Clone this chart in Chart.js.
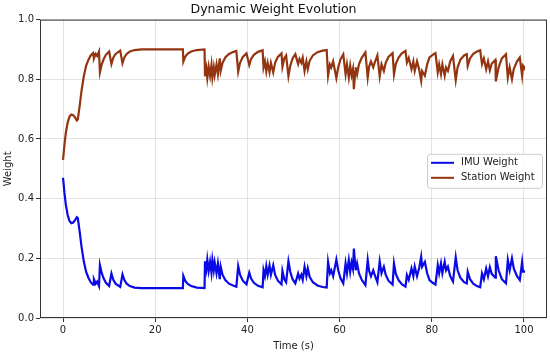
<!DOCTYPE html>
<html>
<head>
<meta charset="utf-8">
<script src="https://cdn.jsdelivr.net/npm/chart.js@4/dist/chart.umd.min.js"></script>
<style>
html,body{margin:0;padding:0;background:#fff;}
#wrap{width:550px;height:353px;}
</style>
</head>
<body>
<div id="wrap"><canvas id="c" width="550" height="353"></canvas></div>
<script>
const chartTitle = 'Dynamic Weight Evolution';
const xTitle = 'Time (s)';
const yTitle = 'Weight';
const seriesLabels = ['IMU Weight', 'Station Weight'];
const xTicks = [0, 20, 40, 60, 80, 100];
const yTicks = [0.0, 0.2, 0.4, 0.6, 0.8, 1.0];

const times = [0,0.3,0.6,1.0,1.4,1.8,2.2,2.6,3.0,3.2,3.6,4.0,4.5,5.0,5.5,6.0,6.5,6.7,7.1,7.4,7.8,8.0,8.4,8.8,9.3,10.0,10.5,10.9,11.4,12.4,12.9,13.3,13.8,14.5,15.5,17.0,26.0,26.1,26.5,27.0,27.8,29.0,30.7,30.8,31.1,31.3,31.6,31.9,32.2,32.4,32.7,32.9,33.3,33.6,34.0,34.2,34.6,35.2,36.0,37.0,37.6,38.0,38.4,39.0,39.8,40.4,40.8,41.4,42.3,43.3,43.5,43.8,44.1,44.4,44.8,45.1,45.6,46.0,46.6,47.4,47.6,48.0,48.4,48.9,49.3,49.8,50.4,51.0,51.3,51.7,52.0,52.4,52.8,53.1,53.5,54.2,55.2,56.3,57.2,57.5,57.9,58.2,58.6,59.3,59.7,60.2,60.8,61.3,61.6,62.0,62.3,62.6,62.9,63.1,63.4,63.5,63.8,64.2,64.8,65.6,66.1,66.4,66.8,67.3,67.6,68.2,68.7,69.1,69.6,70.0,70.6,71.5,71.8,72.2,72.8,73.5,74.3,74.6,75.0,75.6,76.0,76.3,76.8,77.3,77.7,77.9,78.5,79.0,79.5,80.2,80.8,81.3,81.6,82.0,82.3,82.8,83.1,83.5,84.0,84.6,85.2,85.6,86.2,87.0,87.6,87.8,88.3,89.0,89.8,90.5,90.9,91.3,91.8,92.2,92.6,93.0,93.8,93.9,94.5,95.2,96.1,96.5,96.9,97.4,97.8,98.5,99.1,99.6,99.8,100];

const imuWeight = [0.47,0.42,0.38,0.345,0.325,0.318,0.32,0.328,0.338,0.335,0.29,0.24,0.19,0.155,0.135,0.12,0.112,0.13,0.115,0.122,0.107,0.177,0.15,0.133,0.118,0.107,0.149,0.128,0.115,0.104,0.146,0.127,0.115,0.107,0.102,0.1,0.1,0.141,0.125,0.115,0.107,0.102,0.1,0.19,0.163,0.196,0.158,0.188,0.152,0.194,0.16,0.186,0.15,0.183,0.13,0.172,0.145,0.127,0.115,0.108,0.105,0.174,0.145,0.125,0.113,0.152,0.132,0.118,0.108,0.103,0.16,0.14,0.174,0.145,0.176,0.145,0.177,0.145,0.125,0.113,0.158,0.13,0.12,0.19,0.155,0.13,0.116,0.149,0.132,0.145,0.128,0.172,0.14,0.166,0.138,0.12,0.109,0.104,0.102,0.188,0.15,0.16,0.14,0.196,0.16,0.133,0.116,0.183,0.15,0.194,0.155,0.186,0.165,0.233,0.175,0.16,0.183,0.15,0.128,0.11,0.194,0.158,0.14,0.16,0.145,0.12,0.19,0.15,0.172,0.145,0.125,0.112,0.183,0.148,0.127,0.113,0.105,0.144,0.128,0.166,0.14,0.172,0.14,0.17,0.205,0.172,0.188,0.15,0.127,0.118,0.112,0.177,0.15,0.183,0.15,0.188,0.16,0.172,0.14,0.122,0.203,0.16,0.135,0.12,0.116,0.155,0.13,0.115,0.107,0.103,0.149,0.13,0.166,0.14,0.17,0.148,0.135,0.207,0.16,0.13,0.116,0.194,0.16,0.2,0.165,0.14,0.127,0.188,0.155,0.16];

const stationWeight = [0.53,0.58,0.62,0.655,0.675,0.682,0.68,0.672,0.662,0.665,0.71,0.76,0.81,0.845,0.865,0.88,0.888,0.87,0.885,0.878,0.893,0.823,0.85,0.867,0.882,0.893,0.851,0.872,0.885,0.896,0.854,0.873,0.885,0.893,0.898,0.9,0.9,0.859,0.875,0.885,0.893,0.898,0.9,0.81,0.837,0.804,0.842,0.812,0.848,0.806,0.84,0.814,0.85,0.817,0.87,0.828,0.855,0.873,0.885,0.892,0.895,0.826,0.855,0.875,0.887,0.848,0.868,0.882,0.892,0.897,0.84,0.86,0.826,0.855,0.824,0.855,0.823,0.855,0.875,0.887,0.842,0.87,0.88,0.81,0.845,0.87,0.884,0.851,0.868,0.855,0.872,0.828,0.86,0.834,0.862,0.88,0.891,0.896,0.898,0.812,0.85,0.84,0.86,0.804,0.84,0.867,0.884,0.817,0.85,0.806,0.845,0.814,0.835,0.767,0.825,0.84,0.817,0.85,0.872,0.89,0.806,0.842,0.86,0.84,0.855,0.88,0.81,0.85,0.828,0.855,0.875,0.888,0.817,0.852,0.873,0.887,0.895,0.856,0.872,0.834,0.86,0.828,0.86,0.83,0.795,0.828,0.812,0.85,0.873,0.882,0.888,0.823,0.85,0.817,0.85,0.812,0.84,0.828,0.86,0.878,0.797,0.84,0.865,0.88,0.884,0.845,0.87,0.885,0.893,0.897,0.851,0.87,0.834,0.86,0.83,0.852,0.865,0.793,0.84,0.87,0.884,0.806,0.84,0.8,0.835,0.86,0.873,0.812,0.845,0.84];

const FONT = "'DejaVu Sans', sans-serif";
const AXIS = '#333333';
const GRID = 'rgba(176,176,176,0.35)';

const boxPlugin = {
  id: 'boxPlugin',
  afterDraw(chart) {
    const ctx = chart.ctx;
    const a = chart.chartArea;
    ctx.save();
    ctx.strokeStyle = AXIS;
    ctx.lineWidth = 1;
    ctx.strokeRect(a.left + 0.5, a.top + 0.5, a.right - a.left - 1, a.bottom - a.top - 1);
    const w = 115, h = 34;
    const x0 = a.right - w - 5, y0 = (a.top + a.bottom) / 2 - h / 2 + 2;
    ctx.fillStyle = 'rgba(255,255,255,0.85)';
    ctx.strokeStyle = '#cccccc';
    ctx.beginPath();
    if (ctx.roundRect) ctx.roundRect(x0 + 0.5, y0 + 0.5, w, h, 3); else ctx.rect(x0 + 0.5, y0 + 0.5, w, h);
    ctx.fill();
    ctx.stroke();
    ctx.font = '10px ' + FONT;
    ctx.textBaseline = 'middle';
    chart.data.datasets.forEach((ds, i) => {
      const yy = y0 + 9 + i * 15;
      ctx.strokeStyle = ds.borderColor;
      ctx.lineWidth = 2;
      ctx.beginPath();
      ctx.moveTo(x0 + 4, yy);
      ctx.lineTo(x0 + 27, yy);
      ctx.stroke();
      ctx.fillStyle = '#222';
      ctx.fillText(ds.label, x0 + 34, yy);
    });
    ctx.restore();
  }
};

new Chart(document.getElementById('c'), {
  type: 'line',
  data: {
    datasets: [
      { label: seriesLabels[0], data: times.map((t, i) => ({ x: t, y: imuWeight[i] })), borderColor: '#0a0ae6', borderWidth: 2.2, pointRadius: 0, tension: 0, fill: false },
      { label: seriesLabels[1], data: times.map((t, i) => ({ x: t, y: stationWeight[i] })), borderColor: '#933510', borderWidth: 2.2, pointRadius: 0, tension: 0, fill: false }
    ]
  },
  options: {
    responsive: false,
    animation: false,
    devicePixelRatio: 1,
    layout: { padding: { top: 0, right: 3, left: 0, bottom: 0 } },
    plugins: {
      legend: { display: false },
      tooltip: { enabled: false },
      title: { display: true, text: chartTitle, color: '#111', font: { family: FONT, size: 12.6, weight: 'normal' }, padding: { top: 2, bottom: 2.5 } }
    },
    scales: {
      x: {
        type: 'linear', min: -5, max: 105,
        afterBuildTicks: s => { s.ticks = xTicks.map(v => ({ value: v })); },
        afterFit: s => { s.height = 35; },
        grid: { color: GRID, tickColor: AXIS, tickLength: 4, drawOnChartArea: true },
        border: { display: false },
        ticks: { color: '#222', font: { family: FONT, size: 10 }, padding: 2, maxRotation: 0 },
        title: { display: true, text: xTitle, color: '#222', font: { family: FONT, size: 10 }, padding: { top: 0, bottom: 1 } }
      },
      y: {
        type: 'linear', min: 0, max: 1,
        afterBuildTicks: s => { s.ticks = yTicks.map(v => ({ value: v })); },
        afterFit: s => { s.width = 40; },
        grid: { color: GRID, tickColor: AXIS, tickLength: 4 },
        border: { display: false },
        ticks: { color: '#222', font: { family: FONT, size: 10 }, padding: 2, callback: v => v.toFixed(1) },
        title: { display: true, text: yTitle, color: '#222', font: { family: FONT, size: 10 }, padding: { top: 2, bottom: 0 } }
      }
    }
  },
  plugins: [boxPlugin]
});
</script>
</body>
</html>
